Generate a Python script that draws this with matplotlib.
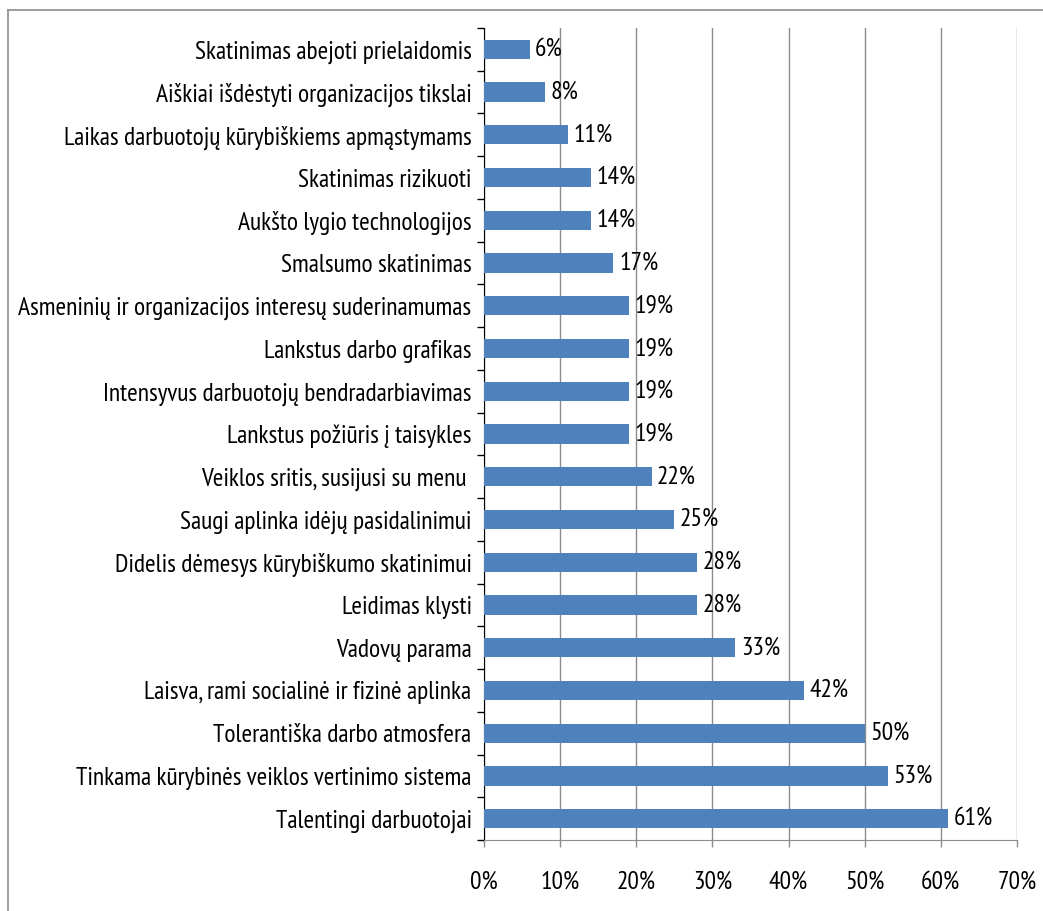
import matplotlib
matplotlib.use("Agg")
import matplotlib.pyplot as plt
from matplotlib.ticker import FixedLocator, FuncFormatter
from matplotlib import font_manager

categories = [
    "Skatinimas abejoti prielaidomis",
    "Aiškiai išdėstyti organizacijos tikslai",
    "Laikas darbuotojų kūrybiškiems apmąstymams",
    "Skatinimas rizikuoti",
    "Aukšto lygio technologijos",
    "Smalsumo skatinimas",
    "Asmeninių ir organizacijos interesų suderinamumas",
    "Lankstus darbo grafikas",
    "Intensyvus darbuotojų bendradarbiavimas",
    "Lankstus požiūris į taisykles",
    "Veiklos sritis, susijusi su menu ",
    "Saugi aplinka idėjų pasidalinimui",
    "Didelis dėmesys kūrybiškumo skatinimui",
    "Leidimas klysti",
    "Vadovų parama",
    "Laisva, rami socialinė ir fizinė aplinka",
    "Tolerantiška darbo atmosfera",
    "Tinkama kūrybinės veiklos vertinimo sistema",
    "Talentingi darbuotojai",
]
values = [6, 8, 11, 14, 14, 17, 19, 19, 19, 19, 22, 25, 28, 28, 33, 42, 50, 53, 61]
x_ticks = [0, 10, 20, 30, 40, 50, 60, 70]

names = {f.name for f in font_manager.fontManager.ttflist}
fam = "DejaVu Sans"
for c in ["PT Sans Narrow", "Carlito", "Liberation Sans Narrow"]:
    if c in names:
        fam = c
        break
plt.rcParams["font.family"] = [fam, "DejaVu Sans"]
FS = 18.4 if fam == "PT Sans Narrow" else 13

fig = plt.figure(figsize=(10.43, 9.11), dpi=100)
ax = fig.add_axes([484/1043, 1-840/911, (1017-484)/1043, (840-28)/911])

n = len(categories)
ypos = list(range(n))
ax.barh(ypos, values, height=0.45, color="#4F81BD", zorder=3)
ax.set_ylim(n - 0.5, -0.5)
ax.set_xlim(0, 70)

for y, v in zip(ypos, values):
    ax.annotate(f"{v}%", (v, y), xytext=(4, 0), textcoords="offset points",
                va="center", ha="left", fontsize=FS, color="#000000")

ax.xaxis.set_major_locator(FixedLocator(x_ticks))
ax.xaxis.set_major_formatter(FuncFormatter(lambda x, p: f"{int(x)}%"))
ax.grid(axis="x", color="#8C8C8C", linewidth=1.0, zorder=0)

ax.set_yticks(ypos)
ax.set_yticklabels(categories, fontsize=FS)
ax.set_yticks([i + 0.5 for i in range(-1, n)], minor=True)
ax.tick_params(axis="y", which="major", length=0, pad=9)
ax.tick_params(axis="y", which="minor", length=5, width=1, color="#000000")
ax.tick_params(axis="x", which="major", length=5, width=1, color="#8C8C8C", labelsize=FS, pad=17)

for s in ["top", "right"]:
    ax.spines[s].set_visible(False)
ax.spines["left"].set_color("#000000")
ax.spines["bottom"].set_color("#8C8C8C")

# outer chart frame (top and left edges visible)
fig.add_artist(plt.Line2D([8/1043, 8/1043], [0, 1-10/911], color="#8C8C8C", linewidth=1.2, transform=fig.transFigure))
fig.add_artist(plt.Line2D([8/1043, 1], [1-10/911, 1-10/911], color="#8C8C8C", linewidth=1.2, transform=fig.transFigure))

fig.savefig("out.png", dpi=100, facecolor="white")
